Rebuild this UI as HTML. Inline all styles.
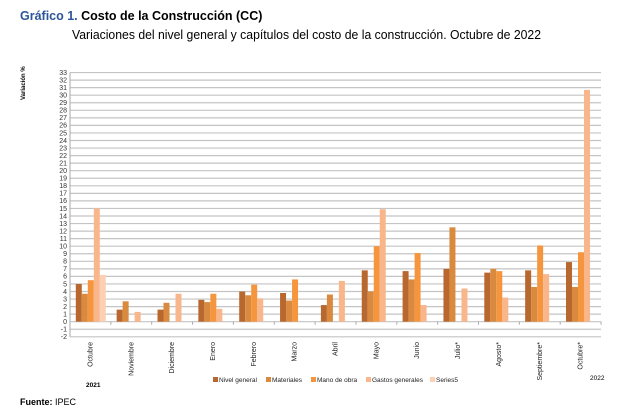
<!DOCTYPE html>
<html><head><meta charset="utf-8"><style>
body{margin:0;background:#fff;width:642px;height:413px;overflow:hidden;font-family:"Liberation Sans",sans-serif}
</style></head><body>
<svg width="642" height="413" xmlns="http://www.w3.org/2000/svg" font-family="Liberation Sans, sans-serif">
<text x="20" y="20" font-size="12.5" font-weight="bold" fill="#2c5597">Gráfico 1. <tspan fill="#000">Costo de la Construcción (CC)</tspan></text>
<text x="72" y="39" font-size="12.5" fill="#000" textLength="469" lengthAdjust="spacingAndGlyphs">Variaciones del nivel general y capítulos del costo de la construcción. Octubre de 2022</text>
<text transform="translate(25,100) rotate(-90)" font-size="6" font-weight="bold">Variación  %</text>
<g id="grid"></g>
<g id="bars"></g>
<g id="labels"></g>
<g font-size="6.5" fill="#222">
<rect x="213" y="377" width="5" height="5" fill="#b8682f"/><text x="219" y="382">Nivel general</text>
<rect x="266" y="377" width="5" height="5" fill="#d98a3e"/><text x="272" y="382">Materiales</text>
<rect x="311" y="377" width="5" height="5" fill="#f5963f"/><text x="317" y="382">Mano de obra</text>
<rect x="366" y="377" width="5" height="5" fill="#f9b68a"/><text x="372" y="382">Gastos generales</text>
<rect x="430" y="377" width="5" height="5" fill="#fcd0b4"/><text x="436" y="382">Series5</text>
</g>
<text x="86" y="387" font-size="6.5" font-weight="bold">2021</text>
<text x="590" y="380" font-size="6.5">2022</text>
<text x="20" y="405" font-size="9"><tspan font-weight="bold">Fuente:</tspan> IPEC</text>
</svg>
<script>
const ns="http://www.w3.org/2000/svg";
function el(p,t,a,txt){const e=document.createElementNS(ns,t);for(const k in a)e.setAttribute(k,a[k]);if(txt!==undefined)e.textContent=txt;document.getElementById(p).appendChild(e);}
const y0=321.7,u=7.55,x0=70,gw=40.85;
for(let v=-2;v<=33;v++){const y=y0-v*u;
 el("grid","line",{x1:x0,x2:601,y1:y,y2:y,stroke:"#c4c4c4","stroke-width":1.2});
 el("grid","text",{x:67,y:y+2.3,"font-size":7,"text-anchor":"end",fill:"#333"},v);}
el("grid","line",{x1:x0,x2:x0,y1:y0+2*u,y2:y0-33*u,stroke:"#aaa","stroke-width":1});
for(let i=0;i<=13;i++)el("grid","line",{x1:x0+i*gw,x2:x0+i*gw,y1:y0,y2:y0+3,stroke:"#aaa"});
const cols=["#b8682f","#d98a3e","#f5963f","#f9b68a","#fcd0b4"];
const d=[[5,3.7,5.5,15,6.2],[1.6,2.7,0,1.3,0],[1.6,2.5,0,3.7,0],[2.9,2.6,3.7,1.7,0],[4,3.5,4.9,3.1,0],[3.8,2.8,5.6,0,0],[2.2,3.6,0,5.4,0],[6.8,4,10,14.9,0],[6.7,5.6,9.1,2.2,0],[7,12.5,0,4.4,0],[6.5,7,6.7,3.2,0],[6.8,4.6,10.1,6.3,0],[7.9,4.6,9.2,30.7,0]];
const m=["Octubre","Noviembre","Diciembre","Enero","Febrero","Marzo","Abril","Mayo","Junio","Julio*","Agosto*","Septiembre*","Octubre*"];
d.forEach((g,i)=>{g.forEach((v,j)=>{if(v>0)el("bars","rect",{x:x0+i*gw+5.8+6*j,y:y0-v*u,width:6,height:v*u,fill:cols[j]});});
 const cx=x0+i*gw+gw/2+2;
 el("labels","text",{transform:`translate(${cx},342) rotate(-90)`,"font-size":7,"text-anchor":"end",fill:"#222"},m[i]);});
</script>
</body></html>
